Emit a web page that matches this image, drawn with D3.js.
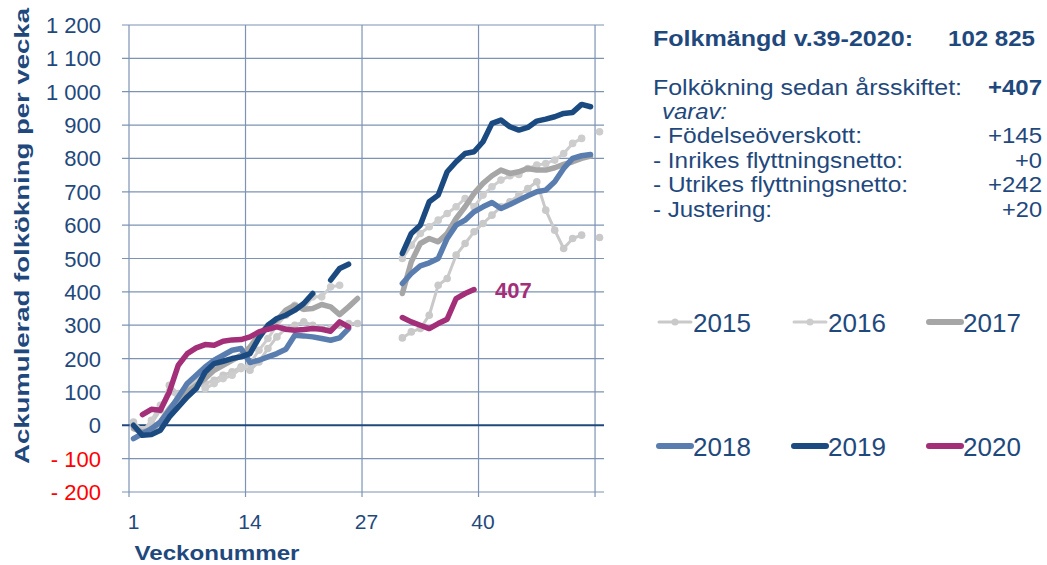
<!DOCTYPE html>
<html>
  <head>
    <meta charset="utf-8">
    <script src="https://cdnjs.cloudflare.com/ajax/libs/d3/7.8.5/d3.min.js"></script>
    <style>
      body { margin: 0; background: #fff; }
      text { font-family: "Liberation Sans", Arial, sans-serif; }
    </style>
  </head>
  <body>
    <script>

    // Weeks 1..53, null = no value that week
    var weeks = d3.range(1, 54);

    var y2015 = [10, -15, 5, 45, 120, 95, 120, 140, 125, 135,
      150, 160, 175, 165, 190, 230, 265, 290, 300, 310,
      300, 290, 290, 300, 305, 305, null, null, null, null,
      262, 280, 290, 330, 420, 440, 510, 545, 580, 605,
      630, 655, 670, 690, 710, 730, 645, 585, 530, 560,
      570, null, 563];

    var y2016 = [0, -20, 15, 60, 100, 85, 115, 135, 110, 125,
      140, 150, 170, 185, 225, 260, 300, 330, 360, 350,
      385, 385, 415, 420, null, null, null, null, null, null,
      500, 540, 575, 595, 615, 635, 655, 680, 655, 690,
      715, 735, 748, 752, 770, 780, 785, 795, 815, 845,
      860, null, 880];

    var y2017 = [-10, -20, -15, 10, 50, 80, 100, 120, 140, 165,
      180, 195, 210, 235, 270, 300, 315, 345, 360, 348,
      350, 362, 355, 332, 355, 380, null, null, null, null,
      395, 490, 545, 560, 550, 575, 620, 655, 695, 725,
      748, 765, 755, 760, 770, 765, 765, 772, 782, 790,
      800, 807, null];

    var y2018 = [-40, -25, -10, 10, 45, 85, 125, 150, 175, 195,
      210, 225, 230, 188, 195, 205, 215, 228, 270, 268,
      265, 260, 255, 262, 290, null, null, null, null, null,
      425, 455, 478, 487, 500, 560, 600, 615, 640, 655,
      668, 650, 662, 675, 688, 700, 705, 730, 770, 800,
      808, 812, null];

    var y2019 = [0, -30, -28, -15, 25, 55, 85, 110, 160, 185,
      192, 200, 205, 215, 262, 300, 320, 330, 345, 365,
      395, null, 435, 470, 483, null, null, null, null, null,
      515, 575, 600, 670, 690, 760, 790, 815, 820, 850,
      905, 915, 895, 885, 893, 912, 918, 925, 935, 938,
      962, 955, null];

    var y2020 = [null, 32, 48, 45, 100, 180, 215, 232, 242, 240,
      252, 256, 257, 265, 280, 288, 295, 288, 285, 287,
      290, 288, 282, 310, 295, null, null, null, null, null,
      323, 310, 300, 290, 305, 318, 380, 395, 407, null,
      null, null, null, null, null, null, null, null, null, null,
      null, null, null];

    var years = ["2015", "2016", "2017", "2018", "2019", "2020"];
    var seriesValues = [y2015, y2016, y2017, y2018, y2019, y2020];
    var colors = ["#c9c9c9", "#cdcdcd", "#a6a6a6", "#5a7db0", "#1b4a80", "#a32f78"];
    var markers = [true, true, false, false, false, false];

    var yTicks = [-200, -100, 0, 100, 200, 300, 400, 500, 600, 700, 800, 900, 1000, 1100, 1200];
    var xTickWeeks = [1, 14, 27, 40];
    var xGridWeeks = [0.5, 13.5, 26.5, 39.5, 52.5];

    var headLabel = "Folkmängd v.39-2020:";
    var headValue = "102 825";
    var summaryLabels = ["Folkökning sedan årsskiftet:", "varav:", "- Födelseöverskott:",
      "- Inrikes flyttningsnetto:", "- Utrikes flyttningsnetto:", "- Justering:"];
    var summaryValues = ["+407", "", "+145", "+0", "+242", "+20"];

    // Widths of the stretched text in the original box
    var labelWidths = [309, 65, 209, 250, 255, 119];
    var valueWidths = [54, 0, 54, 27, 54, 40];

    var navy = "#1f497d";
    var W = 1047, H = 565;

    var svg = d3.select("body").append("svg")
      .attr("width", W)
      .attr("height", H);

    // Scales: categories are one week wide, gridlines between them
    var x = d3.scaleLinear().domain([0.5, 53.5]).range([129, 604]);
    var y = d3.scaleLinear().domain([-200, 1200]).range([492, 25]);

    // Horizontal gridlines
    svg.append("g").selectAll("line")
      .data(yTicks.filter(function(d) { return d !== 0; }))
      .enter().append("line")
        .attr("x1", 122).attr("x2", x(53.5))
        .attr("y1", function(d) { return y(d); })
        .attr("y2", function(d) { return y(d); })
        .attr("stroke", "#7d93b4")
        .attr("stroke-width", 1.2);

    // Vertical gridlines
    svg.append("g").selectAll("line")
      .data(xGridWeeks)
      .enter().append("line")
        .attr("x1", function(d) { return x(d); })
        .attr("x2", function(d) { return x(d); })
        .attr("y1", y(1200)).attr("y2", y(-200) + 5)
        .attr("stroke", "#7d93b4")
        .attr("stroke-width", 1.2);

    // Zero line
    svg.append("line")
      .attr("x1", 122).attr("x2", x(53.5))
      .attr("y1", y(0)).attr("y2", y(0))
      .attr("stroke", navy)
      .attr("stroke-width", 2);

    // Y labels, negatives in red
    svg.append("g").selectAll("text")
      .data(yTicks)
      .enter().append("text")
        .attr("x", 101)
        .attr("y", function(d) { return y(d) + 8; })
        .attr("text-anchor", "end")
        .attr("font-size", "22px")
        .attr("fill", function(d) { return d < 0 ? "#ff0000" : navy; })
        .text(function(d) {
          var s = d3.format(",")(Math.abs(d)).replace(",", " ");
          return d < 0 ? "- " + s : s;
        });

    // X labels
    svg.append("g").selectAll("text")
      .data(xTickWeeks)
      .enter().append("text")
        .attr("x", function(d) { return x(d); })
        .attr("y", 529)
        .attr("text-anchor", "middle")
        .attr("font-size", "21px")
        .attr("fill", navy)
        .text(function(d) { return d; });

    // Axis titles
    svg.append("text")
      .attr("x", 217).attr("y", 560)
      .attr("text-anchor", "middle")
      .attr("font-size", "21px")
      .attr("font-weight", "bold")
      .attr("fill", navy)
      .attr("textLength", 165)
      .attr("lengthAdjust", "spacingAndGlyphs")
      .text("Veckonummer");

    svg.append("text")
      .attr("transform", "translate(29, 236) rotate(-90)")
      .attr("text-anchor", "middle")
      .attr("font-size", "21px")
      .attr("font-weight", "bold")
      .attr("fill", navy)
      .attr("textLength", 456)
      .attr("lengthAdjust", "spacingAndGlyphs")
      .text("Ackumulerad folkökning per vecka");

    // Lines
    var line = d3.line()
      .defined(function(d) { return d.v != null; })
      .x(function(d) { return x(d.w); })
      .y(function(d) { return y(d.v); });

    seriesValues.forEach(function(vals, i) {
      var pts = weeks.map(function(w, j) { return {w: w, v: vals[j]}; });
      var g = svg.append("g");
      g.append("path")
        .datum(pts)
        .attr("d", line)
        .attr("fill", "none")
        .attr("stroke", colors[i])
        .attr("stroke-width", markers[i] ? 3 : 5.5)
        .attr("stroke-linejoin", "round")
        .attr("stroke-linecap", "round");
      if (markers[i]) {
        g.selectAll("circle")
          .data(pts.filter(function(d) { return d.v != null; }))
          .enter().append("circle")
            .attr("cx", function(d) { return x(d.w); })
            .attr("cy", function(d) { return y(d.v); })
            .attr("r", 3.8)
            .attr("fill", colors[i]);
      }
    });

    // End label for 2020
    svg.append("text")
      .attr("x", 495).attr("y", y(407) + 8)
      .attr("font-size", "22px")
      .attr("font-weight", "bold")
      .attr("fill", colors[5])
      .text("407");

    // Summary text on the right
    svg.append("text")
      .attr("x", 653).attr("y", 46)
      .attr("font-size", "22px").attr("font-weight", "bold").attr("fill", navy)
      .attr("textLength", 260).attr("lengthAdjust", "spacingAndGlyphs")
      .text(headLabel);
    svg.append("text")
      .attr("x", 948).attr("y", 46)
      .attr("font-size", "22px").attr("font-weight", "bold").attr("fill", navy)
      .attr("textLength", 87).attr("lengthAdjust", "spacingAndGlyphs")
      .text(headValue);

    summaryLabels.forEach(function(lab, i) {
      var yy = i === 0 ? 95 : 94 + i * 24.6;
      svg.append("text")
        .attr("x", i === 1 ? 662 : 653).attr("y", yy)
        .attr("font-size", "22px")
        .attr("font-style", i === 1 ? "italic" : null)
        .attr("fill", navy)
        .attr("textLength", labelWidths[i]).attr("lengthAdjust", "spacingAndGlyphs")
        .text(lab);
      if (summaryValues[i]) {
        svg.append("text")
          .attr("x", 1042 - valueWidths[i]).attr("y", yy)
          .attr("font-size", "22px")
          .attr("font-weight", i === 0 ? "bold" : null)
          .attr("fill", navy)
          .attr("textLength", valueWidths[i]).attr("lengthAdjust", "spacingAndGlyphs")
          .text(summaryValues[i]);
      }
    });

    // Legend, 3 per row
    years.forEach(function(yr, i) {
      var lx = 659 + (i % 3) * 135;
      var ly = 322 + Math.floor(i / 3) * 124;
      var g = svg.append("g");
      g.append("line")
        .attr("x1", lx).attr("x2", lx + 32)
        .attr("y1", ly).attr("y2", ly)
        .attr("stroke", colors[i])
        .attr("stroke-width", markers[i] ? 3 : 6)
        .attr("stroke-linecap", "round");
      if (markers[i]) {
        g.append("circle").attr("cx", lx + 16).attr("cy", ly).attr("r", 3.5).attr("fill", colors[i]);
      }
      g.append("text")
        .attr("x", lx + 34).attr("y", ly + 10)
        .attr("font-size", "26px")
        .attr("fill", navy)
        .text(yr);
    });
    </script>
  </body>
</html>
